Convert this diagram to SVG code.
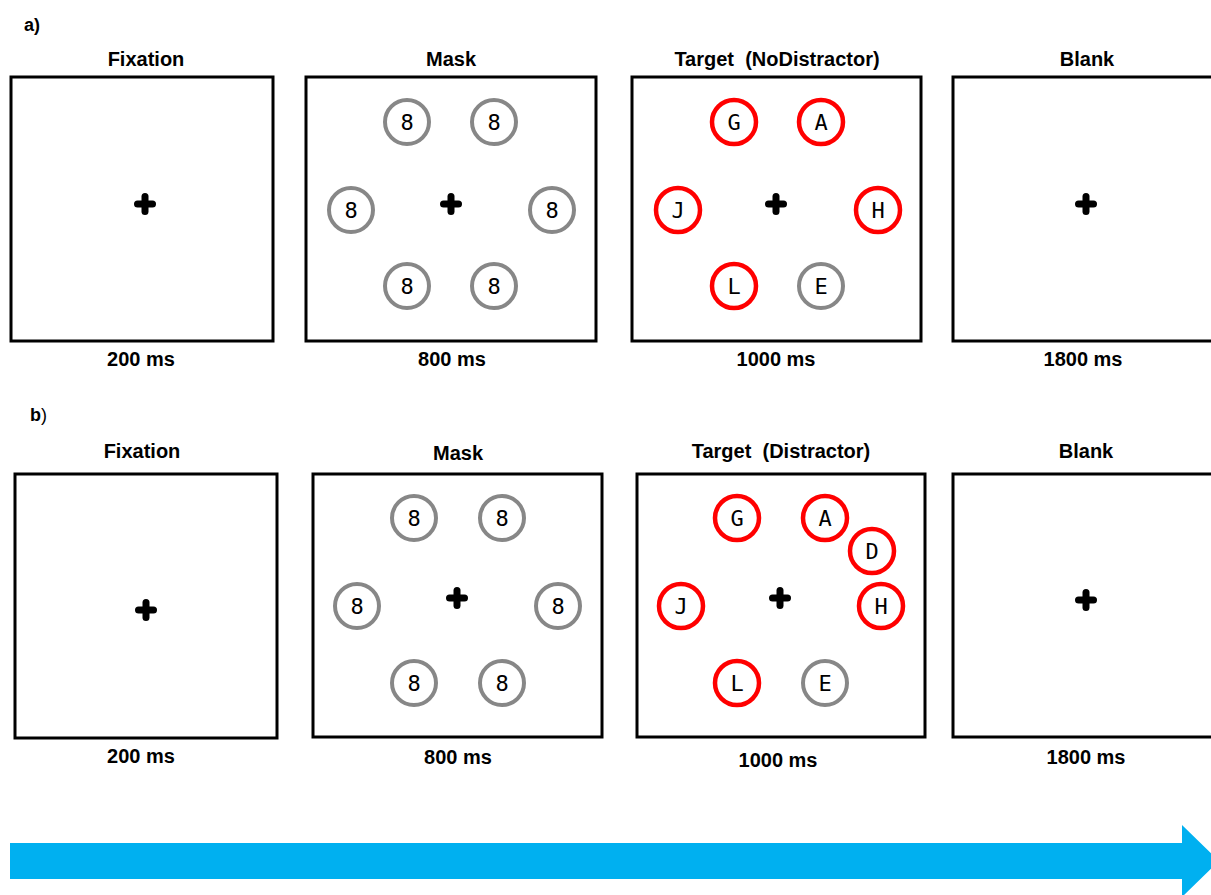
<svg xmlns="http://www.w3.org/2000/svg" width="1211" height="895" viewBox="0 0 1211 895">
<style>
.lbl{font-family:"Liberation Sans",Arial,sans-serif;font-weight:bold;font-size:20px;fill:#000;text-anchor:middle}
.pl{font-family:"Liberation Sans",Arial,sans-serif;font-weight:bold;font-size:18px;fill:#000}
.box{fill:#fff;stroke:#000;stroke-width:3}
.g{fill:#fff;stroke:#878787;stroke-width:4}
.r{fill:#fff;stroke:#ff0000;stroke-width:4.5}
.ch{font-family:"DejaVu Sans Mono",monospace;font-size:22px;fill:#000;text-anchor:middle}
</style>
<defs>
<g id="cross">
<rect x="-11" y="-3.5" width="22" height="7" rx="3.5"/>
<rect x="-3.5" y="-11" width="7" height="22" rx="3.5"/>
</g>
</defs>
<rect width="1211" height="895" fill="#fff"/>
<text class="pl" x="24" y="31">a)</text>
<text class="pl" x="30" y="421">b<tspan font-weight="normal">)</tspan></text>

<g id="a-fixation">
<text class="lbl" x="146" y="66">Fixation</text>
<rect class="box" x="11" y="77" width="262" height="264"/>
<use href="#cross" x="145" y="204"/>
<text class="lbl" x="141" y="366">200 ms</text>
</g>
<g id="a-mask">
<text class="lbl" x="451" y="66">Mask</text>
<rect class="box" x="306" y="77" width="290" height="264"/>
<use href="#cross" x="451" y="204"/>
<circle class="g" cx="407" cy="122" r="22"/><text class="ch" x="407" y="130">8</text>
<circle class="g" cx="494" cy="122" r="22"/><text class="ch" x="494" y="130">8</text>
<circle class="g" cx="351" cy="210" r="22"/><text class="ch" x="351" y="218">8</text>
<circle class="g" cx="552" cy="210" r="22"/><text class="ch" x="552" y="218">8</text>
<circle class="g" cx="407" cy="286" r="22"/><text class="ch" x="407" y="294">8</text>
<circle class="g" cx="494" cy="286" r="22"/><text class="ch" x="494" y="294">8</text>
<text class="lbl" x="452" y="366">800 ms</text>
</g>
<g id="a-target">
<text class="lbl" x="777" y="66" xml:space="preserve">Target  (NoDistractor)</text>
<rect class="box" x="632" y="77" width="289" height="264"/>
<use href="#cross" x="776" y="204"/>
<circle class="r" cx="734" cy="122" r="22"/><text class="ch" x="734" y="130">G</text>
<circle class="r" cx="821" cy="122" r="22"/><text class="ch" x="821" y="130">A</text>
<circle class="r" cx="678" cy="210" r="22"/><text class="ch" x="678" y="218">J</text>
<circle class="r" cx="878" cy="210" r="22"/><text class="ch" x="878" y="218">H</text>
<circle class="r" cx="734" cy="286" r="22"/><text class="ch" x="734" y="294">L</text>
<circle class="g" cx="821" cy="286" r="22"/><text class="ch" x="821" y="294">E</text>
<text class="lbl" x="776" y="366">1000 ms</text>
</g>
<g id="a-blank">
<text class="lbl" x="1087" y="66">Blank</text>
<rect class="box" x="953" y="77" width="270" height="264"/>
<use href="#cross" x="1086" y="204"/>
<text class="lbl" x="1083" y="366">1800 ms</text>
</g>

<g id="b-fixation">
<text class="lbl" x="142" y="458">Fixation</text>
<rect class="box" x="15" y="474" width="262" height="264"/>
<use href="#cross" x="146" y="610"/>
<text class="lbl" x="141" y="763">200 ms</text>
</g>
<g id="b-mask">
<text class="lbl" x="458" y="460">Mask</text>
<rect class="box" x="313" y="474" width="289" height="263"/>
<use href="#cross" x="457" y="598"/>
<circle class="g" cx="414" cy="518" r="22"/><text class="ch" x="414" y="526">8</text>
<circle class="g" cx="502" cy="518" r="22"/><text class="ch" x="502" y="526">8</text>
<circle class="g" cx="357" cy="606" r="22"/><text class="ch" x="357" y="614">8</text>
<circle class="g" cx="558" cy="606" r="22"/><text class="ch" x="558" y="614">8</text>
<circle class="g" cx="414" cy="683" r="22"/><text class="ch" x="414" y="691">8</text>
<circle class="g" cx="502" cy="683" r="22"/><text class="ch" x="502" y="691">8</text>
<text class="lbl" x="458" y="764">800 ms</text>
</g>
<g id="b-target">
<text class="lbl" x="781" y="458" xml:space="preserve">Target  (Distractor)</text>
<rect class="box" x="637" y="474" width="288" height="263"/>
<use href="#cross" x="780" y="598"/>
<circle class="r" cx="737" cy="518" r="22"/><text class="ch" x="737" y="526">G</text>
<circle class="r" cx="825" cy="518" r="22"/><text class="ch" x="825" y="526">A</text>
<circle class="r" cx="872" cy="551" r="22"/><text class="ch" x="872" y="559">D</text>
<circle class="r" cx="681" cy="606" r="22"/><text class="ch" x="681" y="614">J</text>
<circle class="r" cx="881" cy="606" r="22"/><text class="ch" x="881" y="614">H</text>
<circle class="r" cx="737" cy="683" r="22"/><text class="ch" x="737" y="691">L</text>
<circle class="g" cx="825" cy="683" r="22"/><text class="ch" x="825" y="691">E</text>
<text class="lbl" x="778" y="767">1000 ms</text>
</g>
<g id="b-blank">
<text class="lbl" x="1086" y="458">Blank</text>
<rect class="box" x="953" y="474" width="270" height="263"/>
<use href="#cross" x="1086" y="600"/>
<text class="lbl" x="1086" y="764">1800 ms</text>
</g>

<g id="timeline">
<path d="M10 843 H1182 V825 L1219 861 L1182 897 V879 H10 Z" fill="#00b0f0"/>
</g>
</svg>
